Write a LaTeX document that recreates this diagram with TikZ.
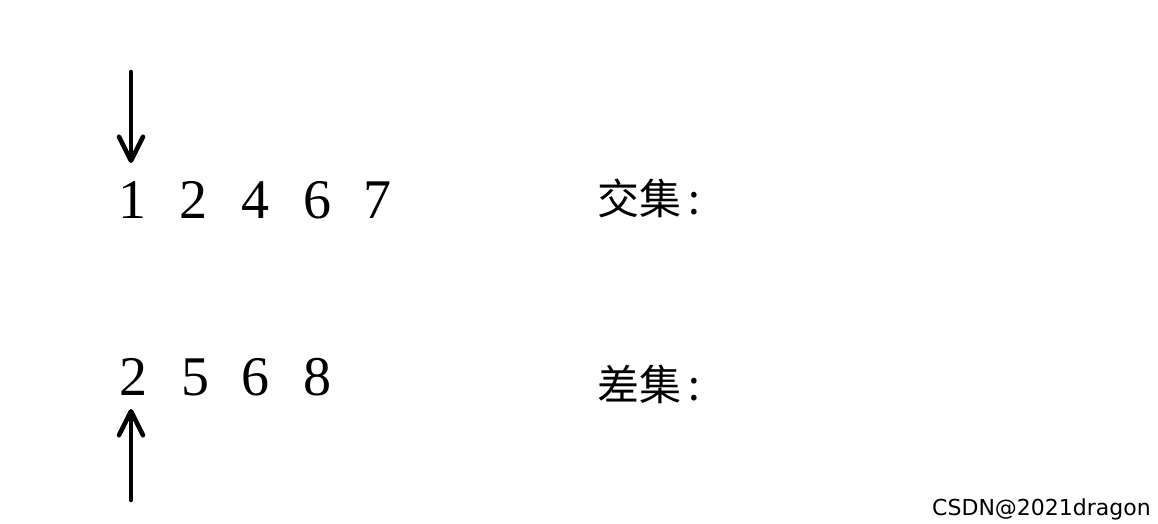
\documentclass[tikz,border=0pt]{standalone}
\usepackage{fontspec}
\setmainfont{Liberation Serif}
\newfontfamily\cjk{Noto Sans CJK SC}
\newfontfamily\marksans{DejaVu Sans}
\usetikzlibrary{arrows.meta}

\begin{document}
\begin{tikzpicture}[x=1pt,y=1pt]
\tikzstyle{every node}+=[inner sep=0pt]
\tikzstyle{digit}=[anchor=base,font=\fontsize{56}{60}\selectfont]
\tikzstyle{setname}=[anchor=west,font=\cjk\fontsize{42}{48}\selectfont]
\tikzstyle{pointer}=[black,line width=4.5pt,line cap=round,line join=round,
  -{Straight Barb[length=24pt,width=24pt,line cap=round,line join=round]}]
\fill [white] (0,0) rectangle (1158,-524);
\useasboundingbox (0,0) rectangle (1158,-524);
% first set
\node [digit] (a1) at (132,-218) {1};
\node [digit] (a2) at (193,-218) {2};
\node [digit] (a4) at (255,-218) {4};
\node [digit] (a6) at (317,-218) {6};
\node [digit] (a7) at (377,-218) {7};
% second set
\node [digit] (b2) at (133,-395) {2};
\node [digit] (b5) at (195,-395) {5};
\node [digit] (b6) at (255,-395) {6};
\node [digit] (b8) at (317,-395) {8};
% results
\node [setname] (inter) at (597,-198) {交集\hspace{7pt}:};
\node [setname] (diff) at (597,-384) {差集\hspace{7pt}:};
% pointers
\coordinate (ptop) at (131,-72);
\coordinate (ptoptip) at (131,-163);
\draw [pointer] (ptop) -- (ptoptip);
\coordinate (pbot) at (131,-500);
\coordinate (pbottip) at (131,-409);
\draw [pointer] (pbot) -- (pbottip);
% watermark
\node [anchor=south east,font=\marksans\fontsize{22}{24}\selectfont] (mark) at (1151,-520) {CSDN@2021dragon};
\end{tikzpicture}
\end{document}
